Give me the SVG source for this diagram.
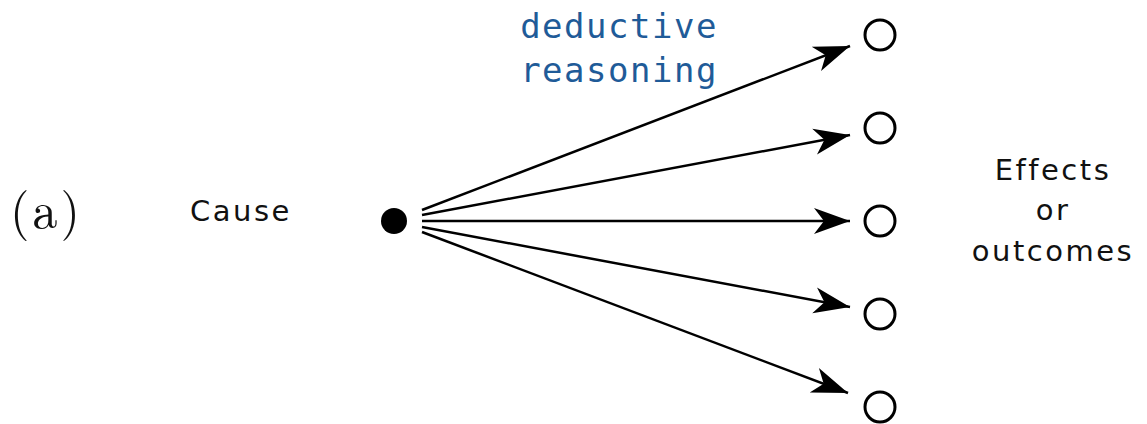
<svg xmlns="http://www.w3.org/2000/svg" width="1147" height="424" viewBox="0 0 1147 424">
<style>
.lbl{font-family:"DejaVu Sans","Liberation Sans",sans-serif;fill:#111;font-size:29px;letter-spacing:2.5px}
.blue{font-family:"DejaVu Sans Mono","Liberation Mono",monospace;fill:#1f5b98;font-size:34px;letter-spacing:1.5px}
.out{fill:#fff;stroke:#000;stroke-width:3}
.conn line{stroke:#000;stroke-width:2.5;marker-end:url(#ah)}
</style>
<defs>
<marker id="ah" markerUnits="userSpaceOnUse" viewBox="-38 -14 40 28" refX="0" refY="0" markerWidth="40" markerHeight="28" orient="auto">
<path d="M0,0 L-36,-13 L-26,0 L-36,13 Z" fill="#000"/>
</marker>
</defs>
<rect width="1147" height="424" fill="#fff"/>
<text x="10" y="228" font-family="'Latin Modern Roman','Liberation Serif',serif" font-size="50" letter-spacing="3" fill="#111">(a)</text>
<g id="cause"><text class="lbl" x="190" y="221">Cause</text><circle cx="394" cy="221" r="13" fill="#000"/></g>
<g id="o1"><circle class="out" cx="880" cy="35" r="15"/></g>
<g id="o2"><circle class="out" cx="880" cy="128" r="15"/></g>
<g id="o3"><circle class="out" cx="880" cy="221" r="15"/></g>
<g id="o4"><circle class="out" cx="880" cy="314" r="15"/></g>
<g id="o5"><circle class="out" cx="880" cy="407" r="15"/></g>
<g id="effects"><text class="lbl" text-anchor="middle" x="1053" y="180">Effects</text><text class="lbl" text-anchor="middle" x="1053" y="220">or</text><text class="lbl" text-anchor="middle" x="1053" y="261">outcomes</text></g>
<g id="label"><text class="blue" text-anchor="middle" x="619" y="38">deductive</text><text class="blue" text-anchor="middle" x="619" y="82">reasoning</text></g>
<g class="conn" id="connectors">
<line x1="422" y1="210" x2="850" y2="46"/>
<line x1="422" y1="215" x2="850" y2="135"/>
<line x1="422" y1="221" x2="850" y2="221"/>
<line x1="422" y1="227" x2="850" y2="307"/>
<line x1="422" y1="232" x2="848" y2="393"/>
</g>
</svg>
